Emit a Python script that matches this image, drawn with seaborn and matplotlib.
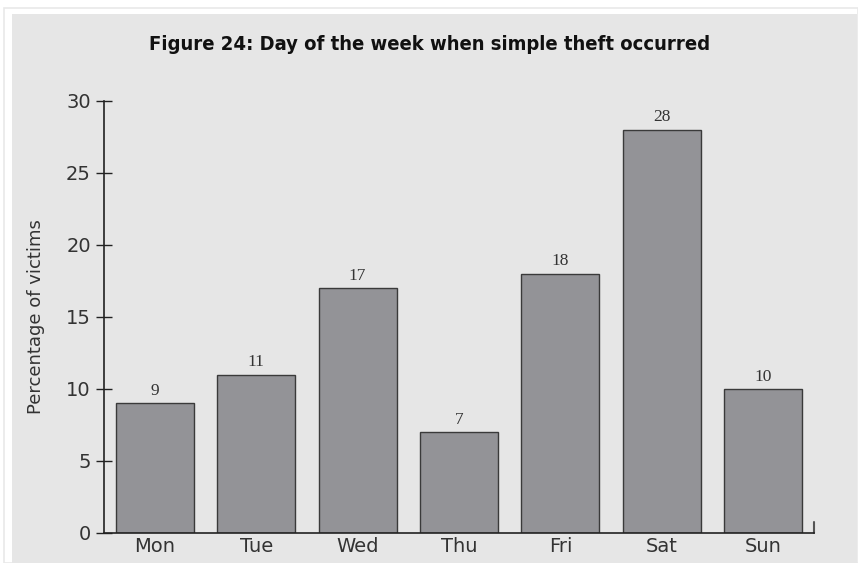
import matplotlib
matplotlib.use("Agg")
import matplotlib.pyplot as plt
from matplotlib.patches import Rectangle
import seaborn as sns
import pandas as pd

days = ["Mon", "Tue", "Wed", "Thu", "Fri", "Sat", "Sun"]
values = [9, 11, 17, 7, 18, 28, 10]
yticks = [0, 5, 10, 15, 20, 25, 30]

title = "Figure 24: Day of the week when simple theft occurred"
ylabel = "Percentage of victims"

sns.set_theme(style="white")
plt.rcParams['font.family'] = ['DejaVu Sans']

W, H = 858, 563
fig = plt.figure(figsize=(W / 100, H / 100), dpi=100)
fig.patch.set_facecolor("white")

bg = "#e6e6e6"
# outer light frame line and inner grey panel
fig.patches.append(Rectangle((4 / W, 0), 1 - 4 / W, 1 - 8 / H, transform=fig.transFigure,
                             facecolor="none", edgecolor="#e9e9e9", lw=1.2, zorder=-10))
fig.patches.append(Rectangle((12 / W, 0), (857 - 12) / W, 1 - 14 / H, transform=fig.transFigure,
                             facecolor=bg, edgecolor="none", zorder=-9))

ax = fig.add_axes([104 / W, (H - 533) / H, (814 - 104) / W, (533 - 101) / H])
ax.set_facecolor("none")
ax.set_zorder(1)

df = pd.DataFrame({"day": days, "value": values})
sns.barplot(data=df, x="day", y="value", ax=ax, color="#939397", saturation=1,
            width=0.77, edgecolor="#3a3a3a", linewidth=1.0)

ax.set_xlim(-0.5, 6.5)
ax.set_ylim(0, 30)
ax.set_yticks(yticks)
ax.set_yticklabels([str(t) for t in yticks], fontsize=14, color="#333333")
ax.tick_params(axis="y", direction="inout", length=11, width=1.0, color="#222222", pad=4, left=True)
ax.tick_params(axis="x", length=0, pad=3, labelsize=14, labelcolor="#333333")

for s in ["top", "right"]:
    ax.spines[s].set_visible(False)
for s in ["left", "bottom"]:
    ax.spines[s].set_color("#222222")
    ax.spines[s].set_linewidth(1.2)

# small end tick at right of x axis
ax.plot([6.5, 6.5], [0, 0.75], color="#555555", lw=1.5, clip_on=False)

for i, v in enumerate(values):
    ax.text(i, v + 0.3, str(v), ha="center", va="bottom", fontsize=12.5,
            family=["Liberation Serif", "DejaVu Serif"], color="#333333")

ax.set_xlabel("")
ax.set_ylabel(ylabel, fontsize=13, color="#333333", labelpad=15)

fig.text(430 / W, 1 - 45 / H, title, ha="center", va="center", fontsize=14.5,
         fontweight="bold", fontstretch="condensed", family=["DejaVu Sans"], color="#111111")

fig.savefig("out.png", dpi=100)
